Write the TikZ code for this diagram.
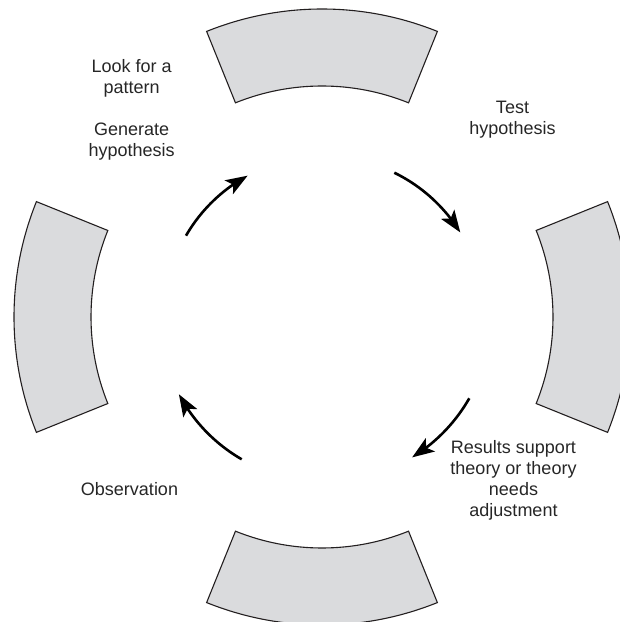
\documentclass[tikz,border=0pt]{standalone}
\usepackage{fontspec}
\setmainfont{Liberation Sans}
\usetikzlibrary{arrows.meta,bending}
\definecolor{segfill}{RGB}{218,219,221}
\definecolor{segline}{RGB}{35,31,32}
\tikzset{
  seg/.style={fill=segfill,draw=segline,line width=1.1pt},
  flow/.style={line width=2.6pt,-{Stealth[length=22pt,width=16pt,inset=5pt]}},
  lbl/.style={align=center,font=\fontsize{18pt}{21pt}\selectfont,text=black!85,inner sep=0pt}
}
\begin{document}
\begin{tikzpicture}[x=1pt,y=1pt]
\useasboundingbox (0,0) rectangle (620,622);
\clip (0,0) rectangle (620,622);
\coordinate (c) at (322,305);
% four annular segments
\foreach \m/\nm in {90/top,180/left,270/bottom,0/right}{
  \draw[seg] ([shift={(c)}]\m-22:308) arc[start angle=\m-22,end angle=\m+22,radius=308]
    -- ([shift={(c)}]\m+22:231) arc[start angle=\m+22,end angle=\m-22,radius=231] -- cycle;
}
% arrows
\coordinate (a1s) at (186,386.3);
\coordinate (a2s) at (394.3,449.3);
\coordinate (a3s) at (469.3,223.7);
\coordinate (a4s) at (241.7,162.7);
\draw[flow] (a1s) arc[start angle=150,end angle=118.5,radius=158.5];
\draw[flow] (a2s) arc[start angle=64,end angle=31.7,radius=160];
\draw[flow] (a3s) arc[start angle=-29.8,end angle=-58.3,radius=167];
\draw[flow] (a4s) arc[start angle=240,end angle=208,radius=164];
% labels
\node[lbl] (look) at (131.7,543.8) {Look for a\\pattern};
\node[lbl] (gen) at (131.7,480.4) {Generate\\hypothesis};
\node[lbl] (test) at (512.5,502.6) {Test\\hypothesis};
\node[lbl] (res) at (513.5,142.1) {Results support\\theory or theory\\needs\\adjustment};
\node[lbl] (obs) at (129.5,133) {Observation};
\end{tikzpicture}
\end{document}
